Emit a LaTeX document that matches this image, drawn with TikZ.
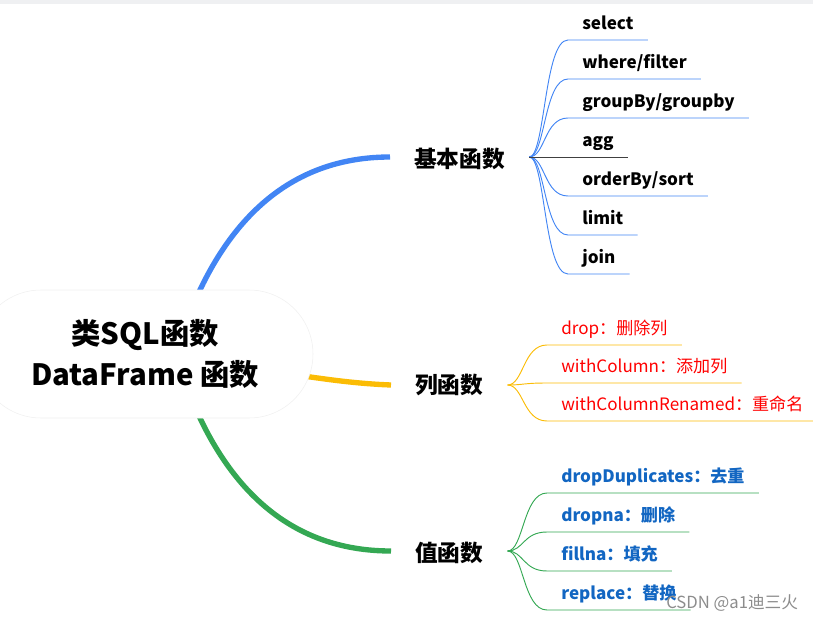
\documentclass[tikz,border=0pt]{standalone}
\usepackage{fontspec}
\setmainfont{Noto Sans CJK SC}
\usetikzlibrary{backgrounds}
\definecolor{mblue}{HTML}{4285F4}
\definecolor{myellow}{HTML}{FBBC05}
\definecolor{mgreen}{HTML}{34A853}
\definecolor{valblue}{HTML}{1266C2}
\definecolor{topgray}{HTML}{EFF0F2}
\begin{document}
\begin{tikzpicture}[x=.75pt, y=-.75pt,
    branch/.style={line width=4pt},
    twig/.style={line width=.7pt},
    root/.style={draw=black!6, fill=white, rounded corners=48pt, minimum width=252pt, minimum height=96pt, align=center, font=\fontsize{22}{31}\selectfont\bfseries},
    topic/.style={font=\fontsize{17}{20}\selectfont\bfseries, inner xsep=18pt, inner ysep=0pt, anchor=west},
    leaf/.style={font=\fontsize{12.8}{15}\selectfont, inner xsep=10.5pt, inner ysep=3.5pt, text depth=4pt, anchor=south west}]
\useasboundingbox (0,0) rectangle (813,620);
\fill[topgray] (0,0) rectangle (813,4);

\node[root] (root) at (145,354) {类SQL函数\\DataFrame 函数};
\node[topic] (basic) at (390,159) {基本函数};
\node[topic] (col) at (391,385) {列函数};
\node[topic] (val) at (391,553) {值函数};

% main branches
\begin{scope}[on background layer]
\draw[branch, mblue] ([shift={(35,-14)}]root.center) .. controls (220,220) and (290,157) .. ([yshift=1.5pt]basic.west);
\draw[branch, myellow] ([shift={(85,11)}]root.center) .. controls (300,375) and (340,383) .. (col.west);
\draw[branch, mgreen] ([shift={(35,14)}]root.center) .. controls (220,488) and (290,551) .. ([yshift=1.5pt]val.west);
\end{scope}

% basic functions
\foreach \y/\t [count=\i] in {40/select, 79/{where/filter}, 118/{groupBy/groupby}, 157/agg, 196/{orderBy/sort}, 235/limit, 274/join}
{
    \node[leaf, font=\fontsize{12.8}{15}\selectfont\bfseries] (b\i) at (568,\y) {\t};
}
\foreach \i in {1,2,3,5,6,7}
{
    \draw[twig, mblue] ([yshift=1.5pt]basic.east) .. controls ([shift={(12pt,1.5pt)}]basic.east) and ([xshift=-18pt]b\i.south west) .. (b\i.south west) -- (b\i.south east);
}
\draw[twig, black!75] ([yshift=1.5pt]basic.east) -- (b4.south east);

% column functions
\foreach \y/\t [count=\i] in {345/drop：删除列, 383/withColumn：添加列, 421/withColumnRenamed：重命名}
{
    \node[leaf, text=red] (c\i) at (547,\y) {\t};
    \draw[twig, myellow] (col.east) .. controls ([xshift=12pt]col.east) and ([xshift=-18pt]c\i.south west) .. (c\i.south west) -- (c\i.south east);
}

% value functions
\foreach \y/\t [count=\i] in {493/dropDuplicates：去重, 532/dropna：删除, 571/fillna：填充, 610/replace：替换}
{
    \node[leaf, text=valblue, font=\fontsize{12.8}{15}\selectfont\bfseries] (v\i) at (547,\y) {\t};
    \draw[twig, mgreen] ([yshift=1.5pt]val.east) .. controls ([shift={(12pt,1.5pt)}]val.east) and ([xshift=-18pt]v\i.south west) .. (v\i.south west) -- (v\i.south east);
}

\node[anchor=west, inner sep=0pt, text=black!45, font=\fontsize{12.5}{15}\selectfont] (mark) at (666,603) {CSDN @a1迪三火};
\end{tikzpicture}
\end{document}
